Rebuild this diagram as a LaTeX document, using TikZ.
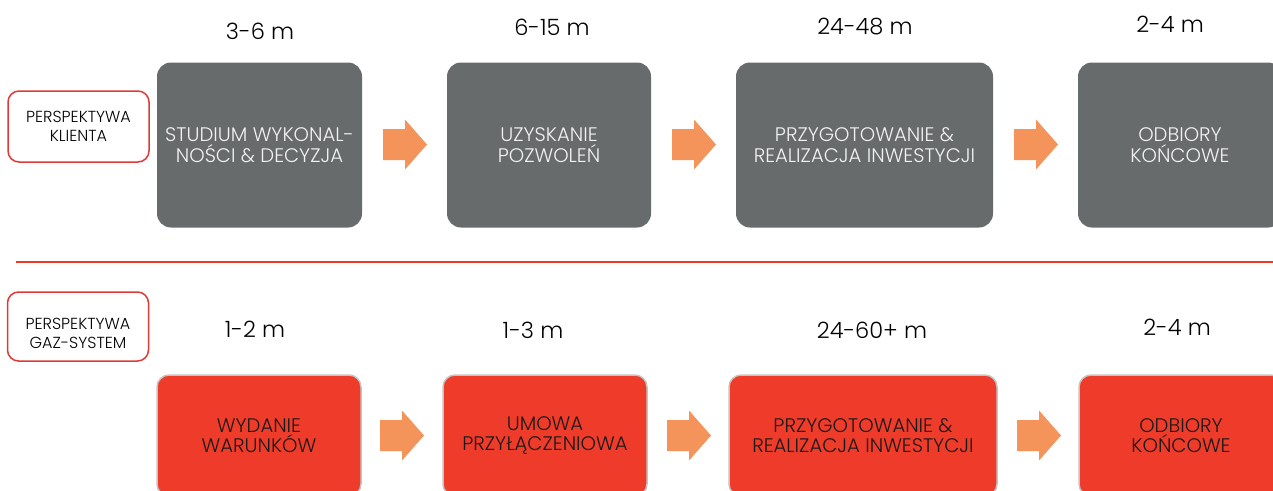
\documentclass[tikz,border=0pt]{standalone}
\usepackage{fontspec}
\IfFontExistsTF{Poppins Light}{\setmainfont{Poppins Light}}{\setmainfont{Poppins}}
\definecolor{boxgray}{HTML}{686B6C}
\definecolor{boxred}{HTML}{EF3B2A}
\definecolor{arrowc}{HTML}{F4935A}
\definecolor{labred}{HTML}{E03A36}
\definecolor{sepred}{HTML}{EA3B2A}
\definecolor{redborder}{HTML}{C4C4C4}
\definecolor{lighttext}{HTML}{F2F2F2}
\begin{document}
\begin{tikzpicture}[x=1pt,y=-1pt,
  graybox/.style={fill=boxgray, rounded corners=14pt, text=lighttext, align=center, inner sep=0pt,
    minimum height=165pt, font=\fontsize{19.6}{20.5}\selectfont},
  redbox/.style={fill=boxred, draw=redborder, line width=1.5pt, rounded corners=12pt, text=black!90, align=center, inner sep=0pt,
    minimum height=121pt, font=\fontsize{19.6}{20.5}\selectfont},
  persp/.style={draw=labred, line width=1.5pt, rounded corners=11pt, fill=white, align=center, inner sep=0pt,
    minimum width=141pt, font=\fontsize{16}{19}\selectfont},
  dur/.style={font=\fontsize{22.5}{26}\selectfont, text=black},
  blockarr/.pic={\fill[arrowc] (-22,-15.5) -- (0,-15.5) -- (0,-25) -- (22,0) -- (0,25) -- (0,15.5) -- (-22,15.5) -- cycle;}
]
\useasboundingbox (0,0) rectangle (1273,490);
\clip (0,0) rectangle (1273,490);

% left labels
\node[persp, minimum height=71pt] (pk) at (78.5,126.5) {PERSPEKTYWA\\KLIENTA};
\node[persp, minimum height=69pt, text depth=0pt] (pg) at (78,326.5) {\raisebox{-3pt}{\begin{tabular}{@{}c@{}}PERSPEKTYWA\\GAZ-SYSTEM\end{tabular}}};

% separator
\draw[sepred, line width=2pt] (16,262) -- (1273,262);

% top row
\node[dur] (d1) at (260,31) {3-6 m};
\node[dur] (d2) at (552,27) {6-15 m};
\node[dur] (d3) at (865,27) {24-48 m};
\node[dur] (d4) at (1170,24) {2-4 m};

\node[graybox, minimum width=205pt] (g1) at (259.5,145) {STUDIUM WYKONAL-\\NOŚCI \& DECYZJA};
\node[graybox, minimum width=204pt] (g2) at (549,145) {UZYSKANIE\\POZWOLEŃ};
\node[graybox, minimum width=257pt] (g3) at (864.5,145) {PRZYGOTOWANIE \&\\REALIZACJA INWESTYCJI};
\node[graybox, minimum width=204pt] (g4) at (1180,145) {ODBIORY\\KOŃCOWE};

\pic (ta1) at (405,144.5) {blockarr};
\pic (ta2) at (694,144.5) {blockarr};
\pic (ta3) at (1036,144.5) {blockarr};

% bottom row
\node[dur] (e1) at (255,329) {1-2 m};
\node[dur] (e2) at (533,330) {1-3 m};
\node[dur] (e3) at (872,330) {24-60+ m};
\node[dur] (e4) at (1177,327) {2-4 m};

\node[redbox, minimum width=204pt] (r1) at (259,435.5) {WYDANIE\\WARUNKÓW};
\node[redbox, minimum width=204pt] (r2) at (545,435.5) {UMOWA\\PRZYŁĄCZENIOWA};
\node[redbox, minimum width=268pt] (r3) at (863,435.5) {PRZYGOTOWANIE \&\\REALIZACJA INWESTYCJI};
\node[redbox, minimum width=204pt] (r4) at (1181,435.5) {ODBIORY\\KOŃCOWE};

\pic (ba1) at (402,435.5) {blockarr};
\pic (ba2) at (689,435.5) {blockarr};
\pic (ba3) at (1039,435.5) {blockarr};
\end{tikzpicture}
\end{document}
